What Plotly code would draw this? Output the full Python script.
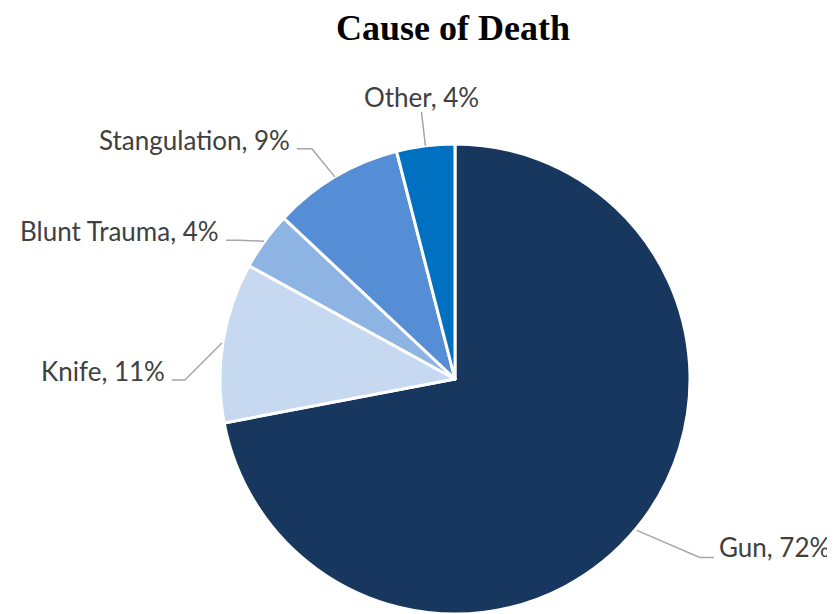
import math
import plotly.graph_objects as go

# ---- data ----
causes = ["Gun", "Knife", "Blunt Trauma", "Stangulation", "Other"]
percents = [72, 11, 4, 9, 4]
colors = ["#17375E", "#C6D9F1", "#8DB4E2", "#558ED5", "#0070C0"]

# page body has an 8px default margin; lay out in screen pixels and convert
OFF = 8
W, H = 835 - OFF, 614 - OFF
CX, CY, R = 455, 380, 236

# leader geometry (pixel offsets from slice edge point): elbow dx, dy, horizontal run, side
leader = {
    "Gun": (63, 27, 14, "right"),
    "Knife": (-37, 37, -13, "left"),
    "Blunt Trauma": (-24, -1, -14, "left"),
    "Stangulation": (-23, -28, -15, "left"),
    "Other": (-4, -34, 0, "top"),
}

def px(x, y):
    return (x - OFF) / W, 1 - (y - OFF) / H

fig = go.Figure(go.Pie(
    labels=causes,
    values=percents,
    sort=False,
    direction="clockwise",
    rotation=0,
    marker=dict(colors=colors, line=dict(color="white", width=3)),
    textinfo="none",
    hoverinfo="label+percent",
    showlegend=False,
    domain=dict(x=[px(CX - R, 0)[0], px(CX + R, 0)[0]],
                y=[0, px(0, CY - R)[1]]),
))

shapes = []
annotations = []
total = sum(percents)
cum = 0
for name, v in zip(causes, percents):
    mid = (cum + v / 2) / total * 2 * math.pi
    cum += v
    ex = CX + R * math.sin(mid)
    ey = CY - R * math.cos(mid)
    dx, dy, run, side = leader[name]
    bx, by = ex + dx, ey + dy
    cx2, cy2 = bx + run, by
    pts = [px(ex, ey), px(bx, by), px(cx2, cy2)]
    path = "M {} {} L {} {} L {} {}".format(pts[0][0], pts[0][1], pts[1][0], pts[1][1], pts[2][0], pts[2][1])
    shapes.append(dict(type="path", path=path, xref="paper", yref="paper",
                       line=dict(color="#A6A6A6", width=1.5)))
    text = "{}, {}%".format(name, v)
    if side == "right":
        tx, ty = px(cx2 + 3, cy2 - 10)
        annotations.append(dict(x=tx, y=ty, xanchor="left", yanchor="middle", text=text))
    elif side == "left":
        tx, ty = px(cx2 - 5, cy2 - 9)
        annotations.append(dict(x=tx, y=ty, xanchor="right", yanchor="middle", text=text))
    else:
        tx, ty = px(cx2, cy2 - 15)
        annotations.append(dict(x=tx, y=ty, xanchor="center", yanchor="middle", text=text))

for a in annotations:
    a.update(xref="paper", yref="paper", showarrow=False,
             font=dict(family="Lato", size=26, color="#404040"))

title_x, title_y = px(453, 28)
annotations.append(dict(x=title_x, y=title_y, xref="paper", yref="paper", showarrow=False,
                        xanchor="center", yanchor="middle", text="<b>Cause of Death</b>",
                        font=dict(family="Liberation Serif", size=36, color="black")))

fig.update_layout(
    width=W, height=H,
    margin=dict(l=0, r=0, t=0, b=0),
    paper_bgcolor="white",
    plot_bgcolor="white",
    shapes=shapes,
    annotations=annotations,
)

fig.write_html("out.html")
